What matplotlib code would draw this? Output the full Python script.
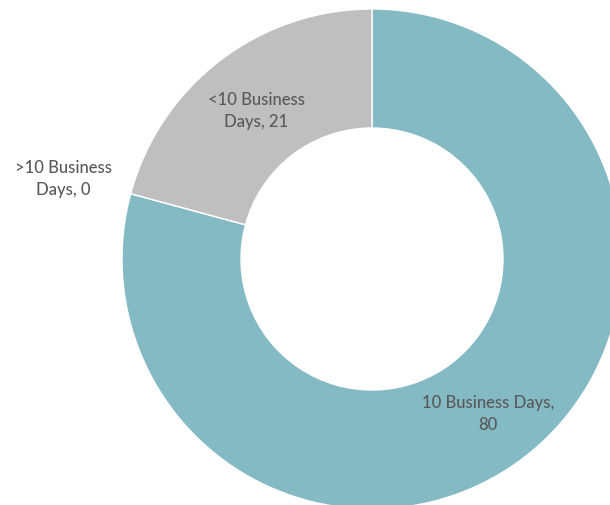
import numpy as np
import matplotlib
matplotlib.use("Agg")
import matplotlib.pyplot as plt

labels = ["10 Business Days,\n80", ">10 Business\nDays, 0", "<10 Business\nDays, 21"]
values = [80, 0, 21]
colors = ["#84BAC4", "#A5A5A5", "#BFBFBF"]

plt.rcParams["font.family"] = ["Lato", "DejaVu Sans"]

fig = plt.figure(figsize=(6.1, 5.06), dpi=100)
# ring of radius 1 -> 250 px, centre at (372, 260) px from top-left
ax = fig.add_axes([122 / 610, -4 / 506, 500 / 610, 500 / 506])

ring_w = 0.476
wedges, _ = ax.pie(values, colors=colors, startangle=90, counterclock=False,
                   radius=1, wedgeprops=dict(width=ring_w, edgecolor="white", linewidth=1))
ax.set_xlim(-1, 1)
ax.set_ylim(-1, 1)
ax.set_aspect("equal")
ax.axis("off")

for w, lab, v in zip(wedges, labels, values):
    ang = np.deg2rad((w.theta1 + w.theta2) / 2)
    r = 1 - ring_w / 2 if v > 0 else 1.28
    ax.text(r * np.cos(ang), r * np.sin(ang) - 0.01, lab, ha="center", va="center",
            fontsize=12, fontweight="medium", color="#595959", linespacing=1.45,
            clip_on=False)

fig.savefig("out.png", dpi=100)
